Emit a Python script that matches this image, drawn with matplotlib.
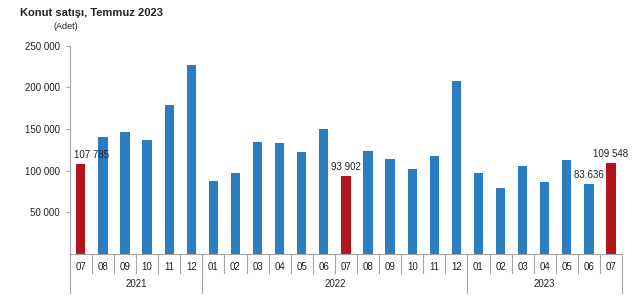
import matplotlib
matplotlib.use('Agg')
import matplotlib.pyplot as plt

# --- data ---
months = ['07', '08', '09', '10', '11', '12',
          '01', '02', '03', '04', '05', '06', '07', '08', '09', '10', '11', '12',
          '01', '02', '03', '04', '05', '06', '07']
years = ['2021', '2022', '2023']
year_spans = [(0, 5), (6, 17), (18, 24)]
sales = [107785, 140848, 147043, 136844, 178585, 226883,
         87866, 97309, 133962, 133228, 122737, 150509, 93902, 123584, 113732, 102567, 117640, 207578,
         97459, 79623, 105476, 86234, 113281, 83636, 109548]
labelled = {0: '107 785', 12: '93 902', 23: '83 636', 24: '109 548'}

blue = '#2A7DC1'
red = '#B2161C'
grey = '#A6A6A6'

plt.rcParams['font.family'] = ['Liberation Sans', 'DejaVu Sans']

fig = plt.figure(figsize=(6.4, 2.98), dpi=100)
ax = fig.add_axes([0.109, 0.148, 0.863, 0.698])

x = list(range(len(sales)))
colors = [red if m == '07' else blue for m in months]
ax.bar(x, sales, width=0.42, color=colors, zorder=2)

ax.set_xlim(-0.5, len(sales) - 0.5)
ax.set_ylim(0, 250000)
ax.set_yticks([50000, 100000, 150000, 200000, 250000])
ax.set_yticklabels([f'{v:,}'.replace(',', ' ') for v in [50000, 100000, 150000, 200000, 250000]])
ax.tick_params(axis='y', length=3, color=grey, labelsize=7, pad=4, labelcolor='#222222')

ax.set_xticks(x)
ax.set_xticklabels(months)
ax.tick_params(axis='x', length=0, labelsize=7, pad=6, labelcolor='#222222')

for s in ['top', 'right']:
    ax.spines[s].set_visible(False)
for s in ['left', 'bottom']:
    ax.spines[s].set_color(grey)
    ax.spines[s].set_linewidth(0.8)

# value labels
for i, txt in labelled.items():
    dx = 8 if i == 0 else 0
    ax.annotate(txt, (i, sales[i]), xytext=(dx, 3), textcoords='offset points',
                ha='center', va='bottom', fontsize=7, color='#222222')

# category separators
trans = ax.get_xaxis_transform()
for i in range(len(sales) - 1):
    ax.plot([i + 0.5, i + 0.5], [0, -0.091], transform=trans, color=grey, lw=0.8, clip_on=False)
for b in [-0.5, 5.5, 17.5, len(sales) - 0.5]:
    ax.plot([b, b], [0, -0.19], transform=trans, color=grey, lw=0.8, clip_on=False)
for yr, (a, b) in zip(years, year_spans):
    ax.text((a + b) / 2, -0.145, yr, transform=trans, ha='center', va='center',
            fontsize=7, color='#222222')

fig.text(0.031, 0.958, 'Konut satışı, Temmuz 2023', fontsize=8, fontweight='bold',
         ha='left', va='center', color='#222222')
fig.text(0.083, 0.91, '(Adet)', fontsize=6.5, ha='left', va='center', color='#222222')

fig.savefig('out.png', dpi=100)
